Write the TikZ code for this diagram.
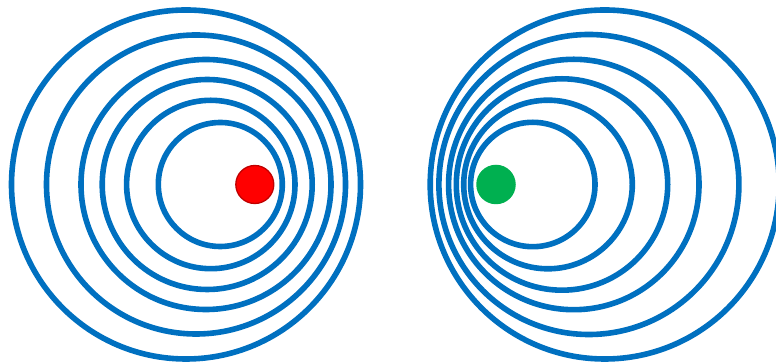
\documentclass[tikz,border=0pt]{standalone}
\usepackage{xcolor}
\usepackage{tikz}
\usetikzlibrary{positioning}
\definecolor{WaveBlue}{HTML}{0070C0}
\definecolor{SrcRed}{HTML}{FF0000}
\definecolor{SrcRedDark}{HTML}{C00000}
\definecolor{SrcGreen}{HTML}{00B050}
\tikzset{
  wave/.style={draw=WaveBlue,line width=5.6pt},
  source/.style={circle,inner sep=0pt,minimum size=38pt},
  redsrc/.style={source,fill=SrcRed,draw=SrcRedDark,line width=1.3pt},
  greensrc/.style={source,fill=SrcGreen,minimum size=39.5pt}
}
\begin{document}
\begin{tikzpicture}[x=1pt,y=1pt]
  \useasboundingbox (0,0) rectangle (776,363);
  \clip (0,0) rectangle (776,363);
  % left: source moving right
  \foreach \cx/\r in {186/174.5,196/149.5,206/125,207.2/105,210.8/84.2,220.3/62}
    \draw[wave] (\cx,178.5) circle (\r);
  \node[redsrc] (srcA) at (254.8,178.5) {};
  % right: source moving left
  \foreach \cx/\r in {604.7/174.5,588.9/150,573.8/125.2,562/105.7,548/84.3,532.8/62.2}
    \draw[wave] (\cx,178.5) circle (\r);
  \node[greensrc] (srcB) at (496,178.5) {};
\end{tikzpicture}
\end{document}
